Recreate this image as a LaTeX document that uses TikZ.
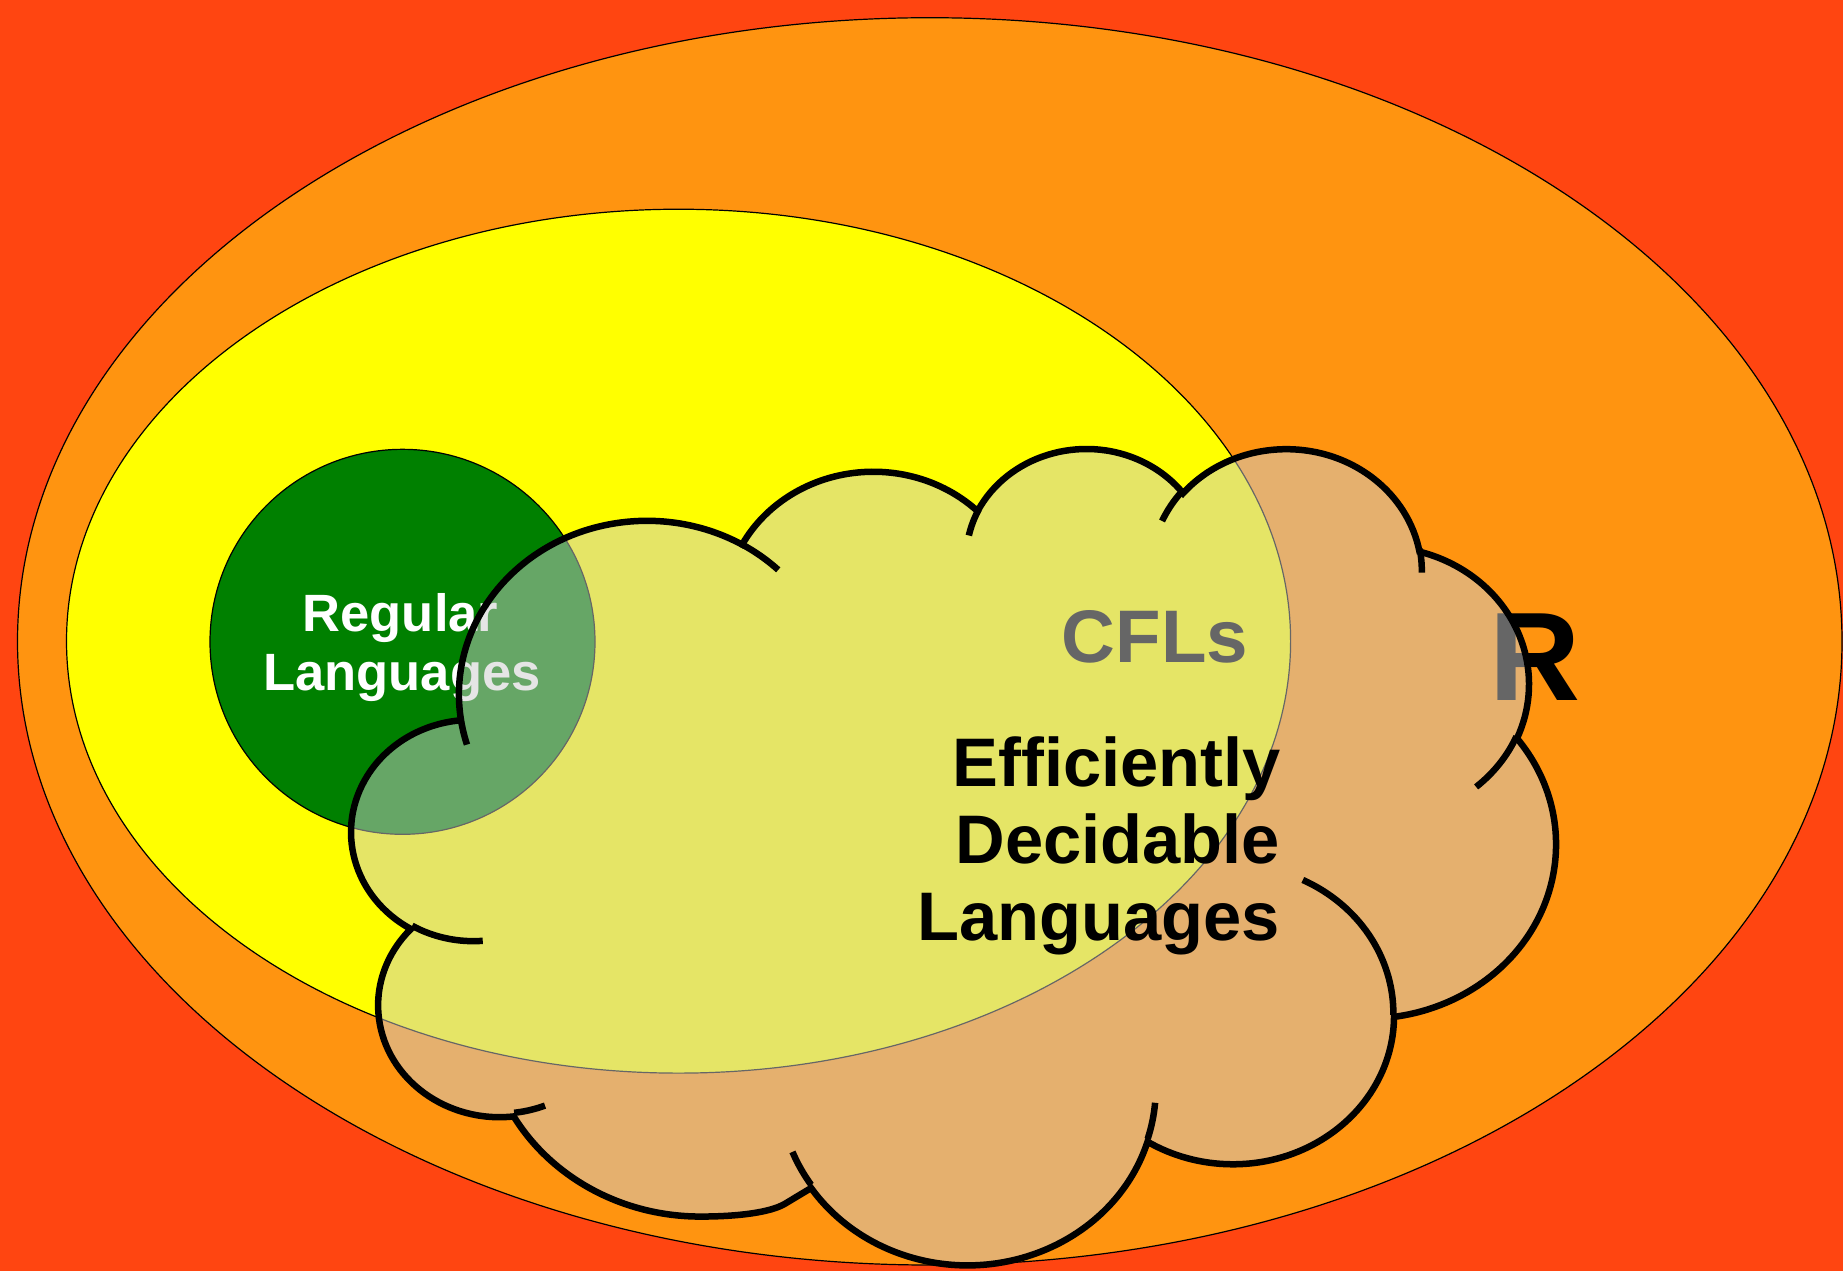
\documentclass[tikz,border=0pt]{standalone}
\usepackage{fontspec}
\setmainfont{Liberation Sans}[Ligatures=NoCommon]
\definecolor{bgred}{RGB}{255,69,17}
\definecolor{outerorange}{RGB}{255,148,16}
\definecolor{innyellow}{RGB}{255,255,0}
\definecolor{reggreen}{RGB}{0,128,0}
\definecolor{cloudgray}{RGB}{204,204,204}

\makeatletter
% visual (OOXML) angle -> negated parametric angle, stored globally in #1
\newcommand\cloudvp[4]{%
  \pgfmathsetmacro\cloud@d{atan2((#3)*sin(#2),(#4)*cos(#2))-(#2)}%
  \pgfmathsetmacro\cloud@r{-((#2)+\cloud@d-360*round(\cloud@d/360))}%
  \global\let#1\cloud@r}
% OOXML arcTo: wR hR stAng swAng (degrees), path units /100
\newcommand\carc[4]{%
  \pgfextra{%
    \cloudvp\cloudta{#3}{#1/100}{#2/100}%
    \cloudvp\cloudtb{#3+#4}{#1/100}{#2/100}%
    \pgfmathsetlengthmacro\cloud@ra{(#1/100)*0.2786mm}\global\let\cloudra\cloud@ra
    \pgfmathsetlengthmacro\cloud@rb{(#2/100)*0.1889mm}\global\let\cloudrb\cloud@rb
  }%
  arc[start angle=\cloudta, end angle=\cloudtb, x radius=\cloudra, y radius=\cloudrb]}
\makeatother

\tikzset{
  thinline/.style={draw=black, line width=0.12mm},
  cloudshape/.style={fill=cloudgray, fill opacity=0.5, draw=black, draw opacity=1, line width=0.65mm},
  cloudline/.style={draw=black, line width=0.65mm},
  txt/.style={inner sep=0pt, outer sep=0pt, font=\bfseries},
}

\begin{document}
\begin{tikzpicture}[x=0.1mm, y=-0.1mm]
\useasboundingbox (0,0) rectangle (1843,1271);
\fill[bgred] (0,0) rectangle (1843,1271);

% R (decidable)
\draw[thinline, fill=outerorange] (929.75,641.35) ellipse [x radius=91.225mm, y radius=62.365mm];
% CFLs
\draw[thinline, fill=innyellow] (678.55,641.15) ellipse [x radius=61.205mm, y radius=43.195mm];
% Regular
\draw[thinline, fill=reggreen] (402.5,641.8) circle [radius=19.25mm];

\node[txt, text=white, anchor=base, font=\bfseries\fontsize{14.94}{17}\selectfont] (reg1) at (400.5,631.7) {Regular};
\node[txt, text=white, anchor=base, font=\bfseries\fontsize{14.94}{17}\selectfont] (reg2) at (402,690) {Languages};
\node[txt, text=black, anchor=base, font=\bfseries\fontsize{21.2}{24}\selectfont] (cfl) at (1155,662.7) {CFLs};
\node[txt, text=black, anchor=base, font=\bfseries\fontsize{35.85}{40}\selectfont] (rlab) at (1534.5,700.7) {R};

% cloud (efficiently decidable)
\begin{scope}[shift={(35.2mm,-44.633mm)}, x=0.2786mm, y=-0.1889mm]
\filldraw[cloudshape] (39,143.7)
  \carc{6753}{9190}{-190.48748}{123.78053}
  \carc{5333}{7267}{-144.10238}{89.94523}
  \carc{4365}{5945}{-145.80792}{99.72302}
  \carc{4857}{6595}{-130.98607}{117.24173}
  \carc{5333}{7273}{-78.70888}{109.02692}
  \carc{6775}{9220}{-46.26725}{130.26900}
  \carc{5785}{7867}{0.62502}{114.03333}
  \carc{6752}{9215}{22.45160}{115.17255}
  -- (155.38,400.99)
  .. controls (150.36,405.38) and (139.27,407.74) .. (125.034,407.739)
  \carc{7720}{10543}{90}{51.95365}
  \carc{4360}{5918}{-274.94208}{146.73557}
  \carc{4345}{5945}{-246.82850}{152.51885}
  -- cycle;
\draw[cloudline] (46.93,261.77) \carc{4345}{5945}{86.74200}{26.42950};
\draw[cloudline] (69.28,348.99) \carc{4360}{5918}{73.61047}{11.44747};
\draw[cloudline] (164.78,390.90) \carc{6752}{9215}{137.62415}{14.08110};
\draw[cloudline] (288.27,347.51) \carc{6752}{9215}{6.45327}{15.99835};
\draw[cloudline] (341.29,229.54) \carc{5785}{7867}{-70.29235}{70.91737};
\draw[cloudline] (417.98,153.54) \carc{5333}{7273}{30.31803}{27.75150};
\draw[cloudline] (383.24,54.26) \carc{4857}{6595}{-13.74433}{14.85487};
\draw[cloudline] (290.78,39.52) \carc{4857}{6595}{-149.18145}{18.19537};
\draw[cloudline] (221.41,47.20) \carc{4365}{5945}{-163.49427}{17.68635};
\draw[cloudline] (140.00,51.92) \carc{6753}{9190}{-66.70695}{12.31935};
\draw[cloudline] (41.27,157.89) \carc{6753}{9190}{157.65435}{11.85817};
\end{scope}

\node[txt, text=black, anchor=base east, font=\bfseries\fontsize{19.55}{22}\selectfont] (eff1) at (1281,786.7) {Efficiently};
\node[txt, text=black, anchor=base east, font=\bfseries\fontsize{19.55}{22}\selectfont] (eff2) at (1280,863.3) {Decidable};
\node[txt, text=black, anchor=base east, font=\bfseries\fontsize{19.55}{22}\selectfont] (eff3) at (1280,940) {Languages};
\end{tikzpicture}
\end{document}
